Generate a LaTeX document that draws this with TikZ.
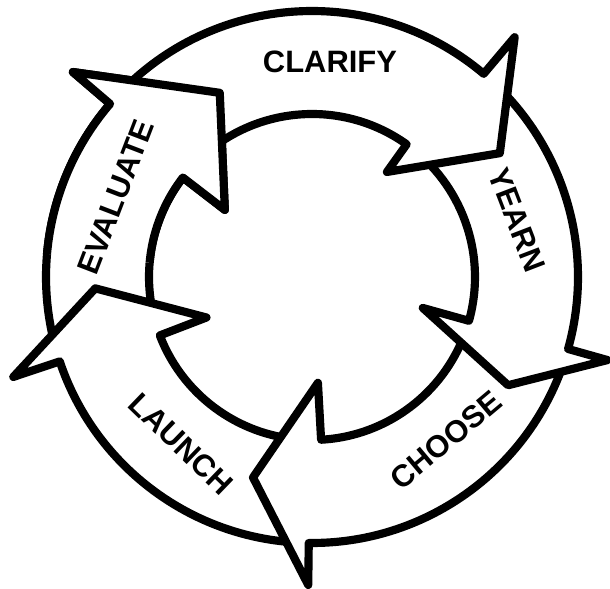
\documentclass[tikz,border=0pt]{standalone}
\usepackage{fontspec}
\setmainfont{Liberation Sans}
\tikzset{
  band/.style={draw=black,fill=white,line width=5.8pt,line join=round},
  lbl/.style={font=\fontsize{22}{26}\selectfont\bfseries,inner sep=0pt}
}
% 弧形箭头: 尾角(外,内) 头角(外,内) 尖角 尖半径 倒刺半径(外,内)
\newcommand{\cycseg}[8]{%
  \path[band] (#2:163) -- (#1:266) arc[start angle=#1,end angle=#3,radius=266]
    -- (#3:#7) -- (#5:#6) -- (#4:#8) -- (#4:163)
    arc[start angle=#4,end angle=#2,radius=163] -- cycle;}
\begin{document}
\begin{tikzpicture}[x=0.025cm,y=0.025cm]
  \useasboundingbox (-312,-312) rectangle (298,277);
  % 五个箭头 (倒序画, 头压住下一个的尾)
  \foreach \ao/\ai/\ho/\hi/\tip/\rt/\bo/\bi in {
    195.5/198/139.4/142.4/116.6/206/315/110,
    266.3/270.2/198.5/201/183/217/315/113,
    -18.7/-18.6/-90.7/-86.8/-106.4/209/308/106,
    46.8/51.5/-15.7/-15.6/-28.9/224/307/115,
    136.4/139.4/49.8/54.5/33.4/225/314/129}
    \cycseg{\ao}{\ai}{\ho}{\hi}{\tip}{\rt}{\bo}{\bi};
  % EVALUATE 头部重画
  \begin{scope}
    \clip (0,0) -- (95:420) arc[start angle=95,end angle=175,radius=420] -- cycle;
    \cycseg{195.5}{198}{139.4}{142.4}{116.6}{206}{315}{110};
  \end{scope}
  % 标签
  \node[lbl] (clarify) at (18,215) {CLARIFY};
  \node[lbl,rotate=-69] (yearn) at (205,57) {YEARN};
  \node[lbl,rotate=40] (choose) at (134,-163) {CHOOSE};
  \node[lbl,rotate=-44] (launch) at (-131,-167) {LAUNCH};
  \node[lbl,rotate=69] (evaluate) at (-196,80) {EVALUATE};
\end{tikzpicture}
\end{document}
